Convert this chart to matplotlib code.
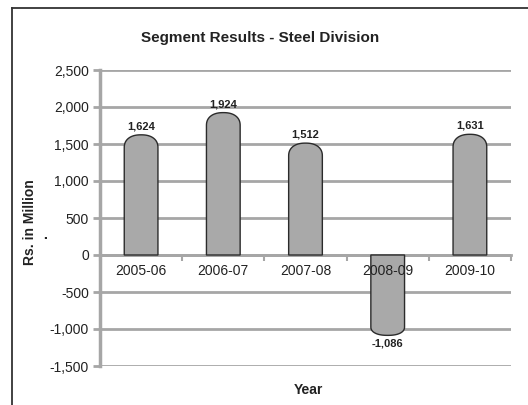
import matplotlib as mpl
import matplotlib.pyplot as plt
import numpy as np
from matplotlib.patches import Polygon
from matplotlib.lines import Line2D

mpl.use("Agg")
plt.rcParams["font.family"] = ["Liberation Sans", "DejaVu Sans"]

years = ["2005-06", "2006-07", "2007-08", "2008-09", "2009-10"]
results = [1624, 1924, 1512, -1086, 1631]
y_ticks = [-1500, -1000, -500, 0, 500, 1000, 1500, 2000, 2500]

GRID = "#a6a6a6"
BAR = "#a9a9a9"
EDGE = "#2b2b2b"


def rounded_bar(x, value, width, cap):
    # bar with a rounded (superellipse) end, coordinates in data units
    half = width / 2
    sign = 1 if value >= 0 else -1
    t = np.linspace(0, np.pi, 60)
    n = 2.3
    cx = np.sign(np.cos(t)) * np.abs(np.cos(t)) ** (2 / n)
    cy = np.abs(np.sin(t)) ** (2 / n)
    base = value - sign * cap
    px = x + half * cx
    py = base + sign * cap * cy
    xs = np.concatenate([[x + half], px, [x - half]])
    ys = np.concatenate([[0], py, [0]])
    return np.column_stack([xs, ys])


fig = plt.figure(figsize=(5.28, 4.05), dpi=100)
ax = fig.add_axes([100 / 528, 1 - 366 / 405, 411 / 528, 296 / 405])

ax.set_xlim(-0.5, 4.5)
ax.set_ylim(-1500, 2500)
ax.set_yticks(y_ticks)
ax.set_yticklabels([f"{v:,}" for v in y_ticks], fontsize=10, color="#222222")
ax.yaxis.grid(True, color=GRID, linewidth=2)
ax.set_axisbelow(True)

ax.set_xticks(np.arange(-0.5, 5, 1))
ax.set_xticklabels([])
ax.tick_params(axis="x", length=4, width=1.5, color=GRID)
ax.tick_params(axis="y", length=5, width=2, color=GRID, pad=3)

for s in ["top", "right"]:
    ax.spines[s].set_visible(False)
ax.spines["bottom"].set_position(("data", 0))
ax.spines["bottom"].set_color(GRID)
ax.spines["bottom"].set_linewidth(2)
ax.spines["left"].set_color(GRID)
ax.spines["left"].set_linewidth(2.5)

for i, v in enumerate(results):
    cap = 175 if v > 0 else 115
    ax.add_patch(Polygon(rounded_bar(i, v, 0.41, cap), closed=True,
                         facecolor=BAR, edgecolor=EDGE, linewidth=1, zorder=3))
    if v > 0:
        ax.annotate(f"{v:,}", (i, v), xytext=(0, 2.5), textcoords="offset points",
                    ha="center", va="bottom", fontsize=8, fontweight="bold",
                    color="#222222")
    else:
        ax.annotate(f"{v:,}", (i, v), xytext=(0, -2), textcoords="offset points",
                    ha="center", va="top", fontsize=8, fontweight="bold",
                    color="#222222")

for i, lab in enumerate(years):
    ax.annotate(lab, (i, 0), xytext=(0, -6.5), textcoords="offset points",
                ha="center", va="top", fontsize=10, color="#222222", zorder=5)

fig.text(260 / 528, 1 - 38 / 405, "Segment Results - Steel Division",
         ha="center", va="center", fontsize=11, fontweight="bold", color="#222222")
fig.text(308 / 528, 1 - 390 / 405, "Year", ha="center", va="center",
         fontsize=10, fontweight="bold", color="#222222")
fig.text(30 / 528, 1 - 222 / 405, "Rs. in Million", ha="center", va="center",
         rotation=90, fontsize=10, fontweight="bold", color="#222222")
fig.text(43 / 528, 1 - 236 / 405, ".", ha="center", va="center",
         rotation=90, fontsize=10, fontweight="bold", color="#222222")

# outer chart frame (left and top edges visible)
fig.add_artist(Line2D([12 / 528, 12 / 528], [0, 1 - 8 / 405], color="#333333", linewidth=1.3))
fig.add_artist(Line2D([12 / 528, 1], [1 - 8 / 405, 1 - 8 / 405], color="#333333", linewidth=1.3))

fig.savefig("out.png", dpi=100)
